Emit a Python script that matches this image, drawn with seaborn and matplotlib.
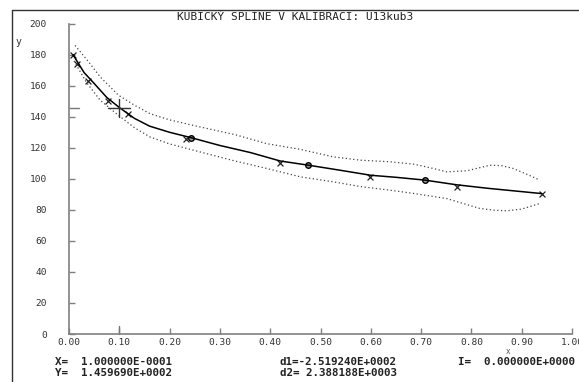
import numpy as np
import pandas as pd
import matplotlib.pyplot as plt
import seaborn as sns
from matplotlib.lines import Line2D

# spline curve
spline_x = [0.008, 0.03, 0.05, 0.075, 0.10, 0.13, 0.16, 0.20, 0.242, 0.30, 0.36,
            0.42, 0.476, 0.54, 0.60, 0.65, 0.707, 0.77, 0.83, 0.88, 0.94]
spline_y = [180, 168.5, 161.5, 152.5, 146, 139, 134, 130, 126.6, 121.5, 117,
            111.5, 108.8, 105.5, 102.3, 101, 99.2, 96.2, 94, 92.4, 90.5]

# confidence band (dotted)
upper_x = [0.012, 0.04, 0.062, 0.098, 0.13, 0.161, 0.20, 0.26, 0.33, 0.393, 0.46,
           0.525, 0.58, 0.638, 0.685, 0.72, 0.751, 0.791, 0.837, 0.86, 0.883, 0.91, 0.936]
upper_y = [186, 175, 165.7, 154, 147.5, 142, 138, 133.5, 128.5, 122.7, 119,
           114.2, 112, 111, 109.5, 107, 104.5, 105.2, 108.8, 108.5, 106.7, 103, 99.2]
lower_x = [0.010, 0.035, 0.062, 0.098, 0.13, 0.161, 0.20, 0.26, 0.33, 0.393, 0.46,
           0.525, 0.58, 0.638, 0.685, 0.751, 0.785, 0.817, 0.845, 0.870, 0.90, 0.936]
lower_y = [176, 162, 150.7, 141, 133, 127, 122.5, 117.4, 111.5, 106.7, 101.3,
           98.1, 95, 92.7, 90.6, 87.3, 84, 80.9, 79.8, 79.4, 80.5, 84.1]

# measured points
cross_x = [0.008, 0.016, 0.038, 0.077, 0.117, 0.233, 0.419, 0.599, 0.772, 0.940]
cross_y = [180, 174, 163, 150, 141.6, 125.4, 110.5, 101.5, 94.7, 90.1]
knot_x = [0.242, 0.475, 0.707]
knot_y = [126.6, 108.8, 99.2]

# cursor position
cur_x, cur_y = 0.10, 145.969

title = "KUBICKÝ SPLINE V KALIBRACI: U13kub3"
status = ["X=  1.000000E-0001", "Y=  1.459690E+0002",
          "d1=-2.519240E+0002", "d2= 2.388188E+0003", "I=  0.000000E+0000"]

sns.set_style("white")
plt.rcParams['font.family'] = ['DejaVu Sans Mono', 'DejaVu Sans']

fig = plt.figure(figsize=(5.79, 3.82), dpi=100)
ax = fig.add_axes([69/579, 1 - 334/382, 503/579, (334 - 23.7)/382])

sns.lineplot(x=upper_x, y=upper_y, ax=ax, color='#444444', lw=0.9,
             linestyle=(0, (1.0, 2.0)), sort=False, estimator=None)
sns.lineplot(x=lower_x, y=lower_y, ax=ax, color='#444444', lw=0.9,
             linestyle=(0, (1.0, 2.0)), sort=False, estimator=None)
sns.lineplot(x=spline_x, y=spline_y, ax=ax, color='black', lw=1.1,
             sort=False, estimator=None)
sns.scatterplot(x=cross_x, y=cross_y, ax=ax, marker='x', s=18,
                color='#222222', linewidth=0.9)
sns.scatterplot(x=knot_x, y=knot_y, ax=ax, marker='o', s=16,
                facecolor='#999999', edgecolor='black', linewidth=1.0)

# cursor crosshair and axis indicators
ax.plot([cur_x - 0.022, cur_x + 0.022], [cur_y, cur_y], color='#333333', lw=1)
ax.plot([cur_x, cur_x], [cur_y - 5.8, cur_y + 5.8], color='#333333', lw=1)
ax.plot([0, 0.02], [cur_y, cur_y], color='#777777', lw=1, clip_on=False)
ax.plot([cur_x, cur_x], [0, 5.3], color='#777777', lw=1, clip_on=False)

ax.set_xlim(0, 1)
ax.set_ylim(0, 200)
ax.set_xticks(np.arange(0, 1.01, 0.1))
ax.set_xticklabels([f"{v:.2f}" for v in np.arange(0, 1.01, 0.1)])
ax.set_yticks(range(0, 201, 20))
for s in ['top', 'right']:
    ax.spines[s].set_visible(False)
for s in ['left', 'bottom']:
    ax.spines[s].set_color('#808080')
    ax.spines[s].set_linewidth(1.2)
ax.tick_params(axis='both', direction='in', length=4, width=1, color='#808080',
               labelsize=6.8, labelcolor='#333333')
ax.tick_params(axis='y', pad=16, left=True)
ax.tick_params(axis='x', pad=3, bottom=True)
ax.set_xlabel('')
ax.set_ylabel('')

fig.text(295/579, 1 - 17/382, title, ha='center', va='center', fontsize=8, color='#222222')
fig.text(18/579, 1 - 42/382, 'y', ha='center', va='center', fontsize=7, color='#333333')
fig.text(508/579, 1 - 352/382, 'x', ha='center', va='center', fontsize=5.5, color='#555555')

pos = [(55, 362), (55, 373), (280, 362), (280, 373), (458, 362)]
for txt, (px, py) in zip(status, pos):
    fig.text(px/579, 1 - py/382, txt, ha='left', va='center', fontsize=7.8,
             fontweight='bold', color='#222222')

# outer frame
fig.add_artist(Line2D([12/579, 12/579], [0, 1 - 10/382], color='#333333', lw=1,
                      transform=fig.transFigure))
fig.add_artist(Line2D([12/579, 1], [1 - 10/382, 1 - 10/382], color='#333333', lw=1,
                      transform=fig.transFigure))

fig.savefig('out.png', dpi=100)
